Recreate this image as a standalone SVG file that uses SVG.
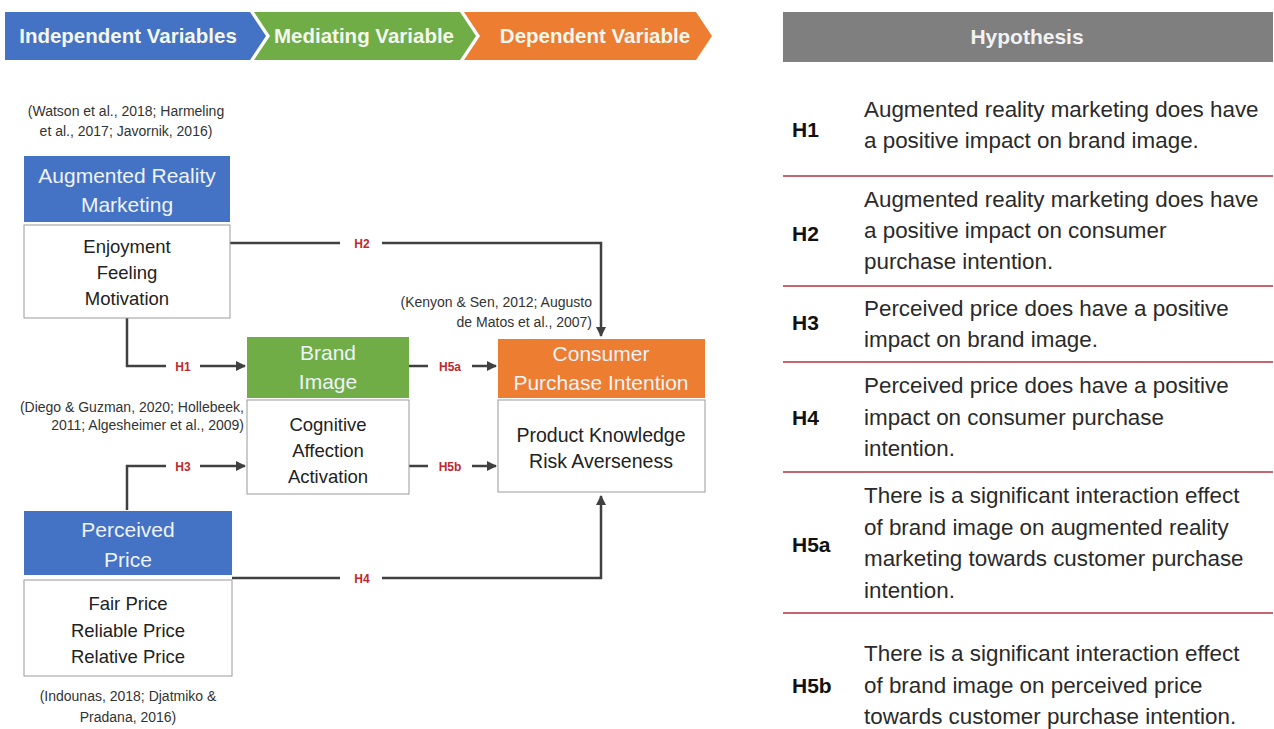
<svg xmlns="http://www.w3.org/2000/svg" width="1274" height="729" viewBox="0 0 1274 729">
<style>
text{font-family:"Liberation Sans",Arial,sans-serif}
.hd{font-size:20.5px;font-weight:bold;fill:#f4f7ee;text-anchor:middle}
.cit{font-size:14px;fill:#333}
.mid{text-anchor:middle}
.end{text-anchor:end}
.tt{font-size:21px;fill:#eef3fa;text-anchor:middle}
.it{font-size:18.5px;fill:#222;text-anchor:middle}
.lb{font-size:12px;font-weight:bold;fill:#c0282d;text-anchor:middle}
.hl{font-size:21px;font-weight:bold;fill:#111}
.ht{font-size:22.4px;fill:#2a2a2a}
.wb{fill:#fff;stroke:#9a9a9a;stroke-width:1}
.ln{fill:none;stroke:#404040;stroke-width:2.5}
.dv{stroke:#b2323f;stroke-width:1.6}
</style>
<defs>
<marker id="ar" viewBox="0 0 10 10" refX="9" refY="5" markerWidth="4" markerHeight="4" orient="auto" markerUnits="strokeWidth">
<path d="M0,0 L10,5 L0,10 z" fill="#404040"/>
</marker>
</defs>
<rect width="1274" height="729" fill="#fff"/>

<g id="header-chevrons">
<polygon points="5,12 250,12 266,36 250,60 5,60" fill="#4472c4"/>
<polygon points="254,12 460,12 476,36 460,60 254,60 270,36" fill="#70ad47"/>
<polygon points="464,12 696,12 712,36 696,60 464,60 480,36" fill="#ed7d31"/>
<text class="hd" x="128" y="43">Independent Variables</text>
<text class="hd" x="364" y="43">Mediating Variable</text>
<text class="hd" x="595" y="43">Dependent Variable</text>
</g>

<g id="connectors">
<path class="ln" d="M230,243 H340 M382,243 H601 V336" marker-end="url(#ar)"/>
<path class="ln" d="M127,318 V366 H166 M200,366 H245" marker-end="url(#ar)"/>
<path class="ln" d="M409,366 H428 M472,366 H496" marker-end="url(#ar)"/>
<path class="ln" d="M409,466 H428 M472,466 H496" marker-end="url(#ar)"/>
<path class="ln" d="M127,510 V466 H166 M200,466 H245" marker-end="url(#ar)"/>
<path class="ln" d="M232,578 H340 M382,578 H601 V496" marker-end="url(#ar)"/>
<text class="lb" x="362" y="248">H2</text>
<text class="lb" x="183" y="371">H1</text>
<text class="lb" x="450" y="371">H5a</text>
<text class="lb" x="450" y="471">H5b</text>
<text class="lb" x="183" y="471">H3</text>
<text class="lb" x="362" y="583">H4</text>
</g>

<g id="node-arm">
<text class="cit mid" x="126" y="116">(Watson et al., 2018; Harmeling</text>
<text class="cit mid" x="126" y="136">et al., 2017; Javornik, 2016)</text>
<rect x="24" y="156" width="206" height="66" fill="#4472c4"/>
<text class="tt" x="127" y="183">Augmented Reality</text>
<text class="tt" x="127" y="212">Marketing</text>
<rect class="wb" x="24" y="225" width="206" height="93"/>
<text class="it" x="127" y="253">Enjoyment</text>
<text class="it" x="127" y="279">Feeling</text>
<text class="it" x="127" y="305">Motivation</text>
</g>

<g id="node-brand-image">
<text class="cit end" x="244" y="412">(Diego &amp; Guzman, 2020; Hollebeek,</text>
<text class="cit end" x="244" y="430">2011; Algesheimer et al., 2009)</text>
<rect x="247" y="337" width="162" height="61" fill="#70ad47"/>
<text class="tt" x="328" y="360">Brand</text>
<text class="tt" x="328" y="389">Image</text>
<rect class="wb" x="247" y="400" width="162" height="94"/>
<text class="it" x="328" y="431">Cognitive</text>
<text class="it" x="328" y="457">Affection</text>
<text class="it" x="328" y="483">Activation</text>
</g>

<g id="node-cpi">
<text class="cit end" x="592" y="307">(Kenyon &amp; Sen, 2012; Augusto</text>
<text class="cit end" x="592" y="327">de Matos et al., 2007)</text>
<rect x="498" y="339" width="207" height="59" fill="#ed7d31"/>
<text class="tt" x="601" y="361">Consumer</text>
<text class="tt" x="601" y="390">Purchase Intention</text>
<rect class="wb" x="498" y="400" width="207" height="92"/>
<text class="it" x="601" y="442" style="font-size:19.5px">Product Knowledge</text>
<text class="it" x="601" y="468" style="font-size:19.5px">Risk Averseness</text>
</g>

<g id="node-pp">
<rect x="24" y="511" width="208" height="64" fill="#4472c4"/>
<text class="tt" x="128" y="537">Perceived</text>
<text class="tt" x="128" y="567">Price</text>
<rect class="wb" x="24" y="580" width="208" height="96"/>
<text class="it" x="128" y="610">Fair Price</text>
<text class="it" x="128" y="637">Reliable Price</text>
<text class="it" x="128" y="663">Relative Price</text>
<text class="cit mid" x="128" y="701">(Indounas, 2018; Djatmiko &amp;</text>
<text class="cit mid" x="128" y="722">Pradana, 2016)</text>
</g>

<g id="hypothesis-table">
<rect x="783" y="12" width="490" height="50" fill="#7f7f7f"/>
<text x="1027" y="44" style="font-size:21px;font-weight:bold;fill:#f2f2f2;text-anchor:middle">Hypothesis</text>
<line class="dv" x1="783" y1="176" x2="1273" y2="176"/>
<line class="dv" x1="783" y1="286" x2="1273" y2="286"/>
<line class="dv" x1="783" y1="362" x2="1273" y2="362"/>
<line class="dv" x1="783" y1="472" x2="1273" y2="472"/>
<line class="dv" x1="783" y1="613" x2="1273" y2="613"/>

<text class="hl" x="792" y="137">H1</text>
<text class="ht" x="864" y="117">Augmented reality marketing does have</text>
<text class="ht" x="864" y="148">a positive impact on brand image.</text>

<text class="hl" x="792" y="241">H2</text>
<text class="ht" x="864" y="207">Augmented reality marketing does have</text>
<text class="ht" x="864" y="238">a positive impact on consumer</text>
<text class="ht" x="864" y="269">purchase intention.</text>

<text class="hl" x="792" y="330">H3</text>
<text class="ht" x="864" y="316">Perceived price does have a positive</text>
<text class="ht" x="864" y="347">impact on brand image.</text>

<text class="hl" x="792" y="425">H4</text>
<text class="ht" x="864" y="393">Perceived price does have a positive</text>
<text class="ht" x="864" y="425">impact on consumer purchase</text>
<text class="ht" x="864" y="456">intention.</text>

<text class="hl" x="792" y="552">H5a</text>
<text class="ht" x="864" y="503">There is a significant interaction effect</text>
<text class="ht" x="864" y="535">of brand image on augmented reality</text>
<text class="ht" x="864" y="566">marketing towards customer purchase</text>
<text class="ht" x="864" y="598">intention.</text>

<text class="hl" x="792" y="693">H5b</text>
<text class="ht" x="864" y="661">There is a significant interaction effect</text>
<text class="ht" x="864" y="693">of brand image on perceived price</text>
<text class="ht" x="864" y="724">towards customer purchase intention.</text>
</g>
</svg>
